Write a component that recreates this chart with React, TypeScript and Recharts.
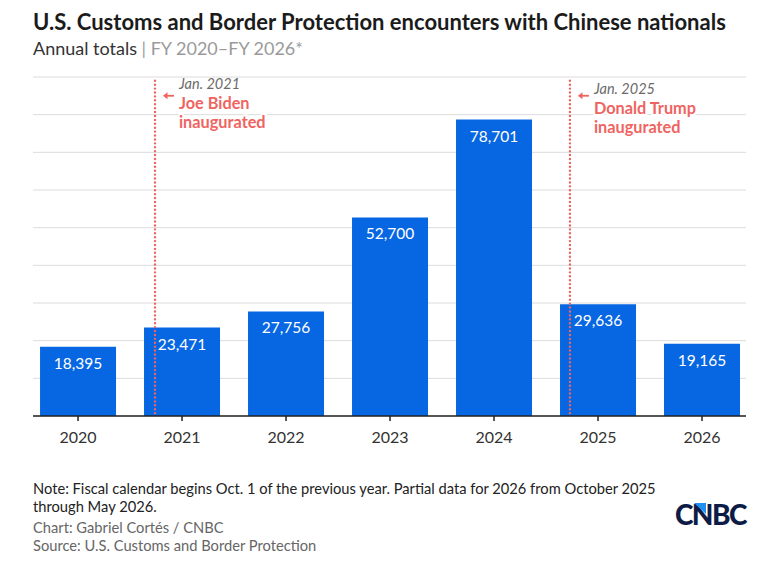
import React from 'react';
import { BarChart, Bar, XAxis, YAxis, CartesianGrid, ReferenceLine, LabelList } from 'recharts';

// ---- data ----
const years = [2020, 2021, 2022, 2023, 2024, 2025, 2026];
const encounters = [18395, 23471, 27756, 52700, 78701, 29636, 19165];
const yTicks = [0, 10000, 20000, 30000, 40000, 50000, 60000, 70000, 80000, 90000];
const annotationX = [2020.74, 2024.73];
const annotationDates = ['Jan. 2021', 'Jan. 2025'];
const annotationNames = ['Joe Biden', 'Donald Trump'];
const annotationSuffix = 'inaugurated';

const data = years.map((y, i) => ({ year: y, value: encounters[i] }));

// ---- style ----
const FONT = 'Lato, "Open Sans", sans-serif';
const BLUE = '#0767e2';
const SALMON = '#ef6461';
const labelTop = [0, 5];

const BarValueLabel = (props: any) => {
  const { x, y, width, value } = props;
  return (
    <text
      x={x + width / 2}
      y={y + 16}
      textAnchor="middle"
      dominantBaseline="central"
      fill="#ffffff"
      fontSize={15.5}
      fontFamily={FONT}
    >
      {Number(value).toLocaleString('en-US')}
    </text>
  );
};

const makeAnnotation = (i: number) => (props: any) => {
  const vb = props.viewBox || {};
  const lx = vb.x;
  const ty = vb.y;
  const d = labelTop[i];
  const tx = lx + 24;
  return (
    <g>
      <path d={`M${lx + 10} ${ty + 15} L${lx + 19} ${ty + 15}`} stroke={SALMON} strokeWidth={1.8} />
      <path d={`M${lx + 8} ${ty + 15} L${lx + 12.5} ${ty + 11.5} L${lx + 12.5} ${ty + 18.5} Z`} fill={SALMON} />
      <text x={tx} y={ty + 3 + d} dominantBaseline="central" fontStyle="italic" fill="#6b6b6b" fontSize={14.5} fontFamily={FONT}>
        {annotationDates[i]}
      </text>
      <text x={tx} y={ty + 22 + d} dominantBaseline="central" fontWeight={700} fill={SALMON} fontSize={16.3} fontFamily={FONT}
        stroke="#ffffff" strokeWidth={4} paintOrder="stroke">
        {annotationNames[i]}
      </text>
      <text x={tx} y={ty + 41 + d} dominantBaseline="central" fontWeight={700} fill={SALMON} fontSize={16.3} fontFamily={FONT}
        stroke="#ffffff" strokeWidth={4} paintOrder="stroke">
        {annotationSuffix}
      </text>
    </g>
  );
};

export default function App() {
  return (
    <div style={{ position: 'absolute', left: 0, top: 0, width: 771, height: 573, background: '#fff', fontFamily: FONT, overflow: 'hidden' }}>
      <div style={{ position: 'absolute', left: 33, top: 8, fontSize: 22, fontWeight: 700, color: '#1b1b1b', whiteSpace: 'nowrap', lineHeight: '28px' }}>
        U.S. Customs and Border Protection encounters with Chinese nationals
      </div>
      <div style={{ position: 'absolute', left: 33, top: 37, fontSize: 18, color: '#333', whiteSpace: 'nowrap', lineHeight: '22px' }}>
        Annual totals <span style={{ color: '#9a9a9a' }}>| FY 2020–FY 2026*</span>
      </div>

      <div style={{ position: 'absolute', left: 0, top: 0 }}>
        <BarChart width={771} height={460} data={data} margin={{ top: 77, right: 25, left: 33, bottom: 14 }}>
          <CartesianGrid vertical={false} stroke="#dcdcdc" strokeWidth={1} />
          <YAxis hide domain={[0, 90000]} ticks={yTicks} type="number" />
          <XAxis
            dataKey="year"
            type="number"
            domain={[2019.567, 2026.423]}
            ticks={years}
            interval={0}
            height={30}
            axisLine={{ stroke: '#222', strokeWidth: 1.5 }}
            tickLine={{ stroke: '#222', strokeWidth: 1.5 }}
            tickSize={5}
            tickMargin={11}
            tick={{ fill: '#333', fontSize: 16, fontFamily: FONT }}
          />
          <Bar dataKey="value" fill={BLUE} barSize={76} isAnimationActive={false}>
            <LabelList dataKey="value" content={BarValueLabel} />
          </Bar>
          {annotationX.map((x, i) => (
            <ReferenceLine
              key={i}
              segment={[{ x, y: 89000 }, { x, y: 0 }]}
              stroke={SALMON}
              strokeWidth={2.4}
              strokeDasharray="0.01 3.9"
              strokeLinecap="round"
              label={makeAnnotation(i)}
            />
          ))}
        </BarChart>
      </div>

      <div style={{ position: 'absolute', left: 33, top: 479, fontSize: 14.7, color: '#222', lineHeight: '18px', width: 660 }}>
        Note: Fiscal calendar begins Oct. 1 of the previous year. Partial data for 2026 from October 2025<br />through May 2026.
      </div>
      <div style={{ position: 'absolute', left: 33, top: 518, fontSize: 14.7, color: '#666', lineHeight: '18px', whiteSpace: 'nowrap' }}>
        Chart: Gabriel Cortés / CNBC<br />Source: U.S. Customs and Border Protection
      </div>
      <svg style={{ position: 'absolute', left: 670, top: 496 }} width={80} height={34}>
        <text x={5} y={28.5} fontSize={28} fontWeight={900} fill="#0d1c47" fontFamily={FONT} letterSpacing={-1.6}>
          CNBC
        </text>
        <polygon points="24,7 36,7 36,18" fill="#1f8ff0" />
      </svg>
    </div>
  );
}
